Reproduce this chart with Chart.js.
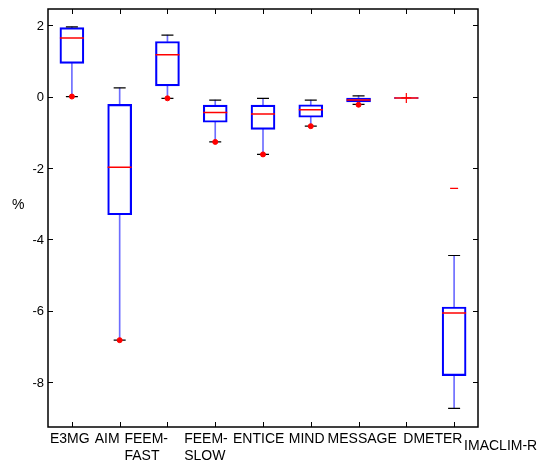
<!DOCTYPE html>
<html>
<head>
<meta charset="utf-8">
<script src="https://cdn.jsdelivr.net/npm/chart.js@4/dist/chart.umd.min.js"></script>
<style>
    body { margin: 0; background: #fff; }
    #wrap { width: 557px; height: 472px; }
</style>
</head>
<body>
<div id="wrap"><canvas id="boxChart" width="557" height="472"></canvas></div>
<script>
// Data (percent)
const categories = ['E3MG', 'AIM', 'FEEM-FAST', 'FEEM-SLOW', 'ENTICE', 'MIND', 'MESSAGE', 'DMETER', 'IMACLIM-R'];
const xLabelLines = [['E3MG'], ['AIM'], ['FEEM-', 'FAST'], ['FEEM-', 'SLOW'], ['ENTICE'], ['MIND'], ['MESSAGE'], ['DMETER'], ['IMACLIM-R']];
const whiskerHigh = [1.95, 0.24, 1.72, -0.10, -0.05, -0.10, 0.02, null, -4.45];
const upperQuartile = [1.93, -0.22, 1.54, -0.24, -0.24, -0.23, -0.04, -0.03, -5.89];
const medians = [1.64, -1.98, 1.17, -0.45, -0.49, -0.37, -0.10, -0.04, -6.06];
const lowerQuartile = [0.93, -3.31, 0.30, -0.72, -0.92, -0.58, -0.15, -0.05, -7.81];
const whiskerLow = [0.00, -6.82, -0.05, -1.27, -1.62, -0.83, -0.22, null, -8.73];
const minMarkers = [0.00, -6.82, -0.05, -1.27, -1.62, -0.83, -0.23, null, null];
const outliers = [null, null, null, null, null, null, null, -0.04, -2.57];
const yTicks = [2, 0, -2, -4, -6, -8];

// label placement tweaks (left edge relative to tick, extra drop)
const labelShift = [-22, -25, -43, -31, -30, -22, -31, -3, 10];
const labelDrop = [0, 0, 0, 0, 0, 0, 0, 0, 7];

const FONT = '"Liberation Sans", Arial, sans-serif';

// frame, inward ticks, tick labels and the "%" title
const framePlugin = {
    id: 'frame',
    afterDraw(chart) {
        const ctx = chart.ctx;
        const area = chart.chartArea;
        const x = chart.scales.x;
        const y = chart.scales.y;
        ctx.save();
        ctx.strokeStyle = '#000';
        ctx.lineWidth = 1.5;
        ctx.strokeRect(area.left, area.top, area.right - area.left, area.bottom - area.top);

        ctx.lineWidth = 1;
        ctx.beginPath();
        categories.forEach((c, i) => {
            const px = Math.round(x.getPixelForValue(i)) + 0.5;
            ctx.moveTo(px, area.top);
            ctx.lineTo(px, area.top + 5);
            ctx.moveTo(px, area.bottom);
            ctx.lineTo(px, area.bottom - 5);
        });
        yTicks.forEach(v => {
            const py = Math.round(y.getPixelForValue(v)) + 0.5;
            ctx.moveTo(area.left, py);
            ctx.lineTo(area.left + 5, py);
            ctx.moveTo(area.right, py);
            ctx.lineTo(area.right - 5, py);
        });
        ctx.stroke();

        ctx.fillStyle = '#000';

        // y tick labels
        ctx.font = '13px ' + FONT;
        ctx.textAlign = 'right';
        ctx.textBaseline = 'middle';
        yTicks.forEach(v => {
            ctx.fillText(String(v), area.left - 4, y.getPixelForValue(v) + 1);
        });

        // x labels, left aligned like the original
        ctx.font = '14px ' + FONT;
        ctx.textAlign = 'left';
        ctx.textBaseline = 'alphabetic';
        xLabelLines.forEach((lines, i) => {
            const px = x.getPixelForValue(i) + labelShift[i];
            lines.forEach((t, j) => {
                ctx.fillText(t, px, area.bottom + 16 + labelDrop[i] + j * 17);
            });
        });

        ctx.fillText('%', 12, (area.top + area.bottom) / 2 - 9);
        ctx.restore();
    }
};

const ctx = document.getElementById('boxChart').getContext('2d');
new Chart(ctx, {
    type: 'bar',
    data: {
        labels: categories,
        datasets: [
            {
                type: 'line',
                label: 'min',
                data: minMarkers,
                showLine: false,
                pointStyle: 'circle',
                pointRadius: 2.5,
                pointBackgroundColor: '#ff0000',
                pointBorderColor: '#ff0000',
                pointBorderWidth: 1,
                order: 0,
            },
            {
                type: 'line',
                label: 'outliers',
                data: outliers,
                showLine: false,
                pointStyle: ['line', 'line', 'line', 'line', 'line', 'line', 'line', 'cross', 'line'],
                pointRadius: [4, 4, 4, 4, 4, 4, 4, 5, 4],
                pointBorderColor: '#ff0000',
                pointBorderWidth: 1.2,
                order: 1,
            },
            {
                type: 'line',
                label: 'upper cap',
                data: whiskerHigh,
                showLine: false,
                pointStyle: 'line',
                pointRadius: 6,
                pointBorderColor: '#000',
                pointBorderWidth: 1.2,
                order: 2,
            },
            {
                type: 'line',
                label: 'lower cap',
                data: whiskerLow,
                showLine: false,
                pointStyle: 'line',
                pointRadius: 6,
                pointBorderColor: '#000',
                pointBorderWidth: 1.2,
                order: 2,
            },
            {
                type: 'line',
                label: 'median',
                data: medians,
                showLine: false,
                pointStyle: 'line',
                pointRadius: 12,
                pointBorderColor: '#ff0000',
                pointBorderWidth: 1.5,
                order: 3,
            },
            {
                label: 'box',
                data: categories.map((c, i) => [lowerQuartile[i], upperQuartile[i]]),
                backgroundColor: 'rgba(255,255,255,0)',
                borderColor: '#0000ff',
                borderWidth: 1.5,
                borderSkipped: false,
                barThickness: 24,
                grouped: false,
                order: 4,
            },
            {
                label: 'upper whisker',
                data: categories.map((c, i) => whiskerHigh[i] === null ? null : [upperQuartile[i], whiskerHigh[i]]),
                backgroundColor: 'rgba(60,60,255,0.75)',
                borderWidth: 0,
                barThickness: 1,
                grouped: false,
                order: 5,
            },
            {
                label: 'lower whisker',
                data: categories.map((c, i) => whiskerLow[i] === null ? null : [whiskerLow[i], lowerQuartile[i]]),
                backgroundColor: 'rgba(60,60,255,0.75)',
                borderWidth: 0,
                barThickness: 1,
                grouped: false,
                order: 5,
            },
        ],
    },
    options: {
        responsive: false,
        animation: false,
        events: [],
        layout: { autoPadding: false, padding: { top: 9, right: 79, left: 0, bottom: 0 } },
        plugins: {
            legend: { display: false },
            tooltip: { enabled: false },
        },
        scales: {
            x: {
                offset: true,
                grid: { display: false },
                border: { display: false },
                ticks: { display: false },
                afterFit(scale) { scale.height = 45; },
            },
            y: {
                min: -9.25,
                max: 2.45,
                grid: { display: false },
                border: { display: false },
                ticks: { display: false },
                afterBuildTicks(scale) { scale.ticks = yTicks.map(v => ({ value: v })); },
                afterFit(scale) { scale.width = 48; },
            },
        },
    },
    plugins: [framePlugin],
});
</script>
</body>
</html>
